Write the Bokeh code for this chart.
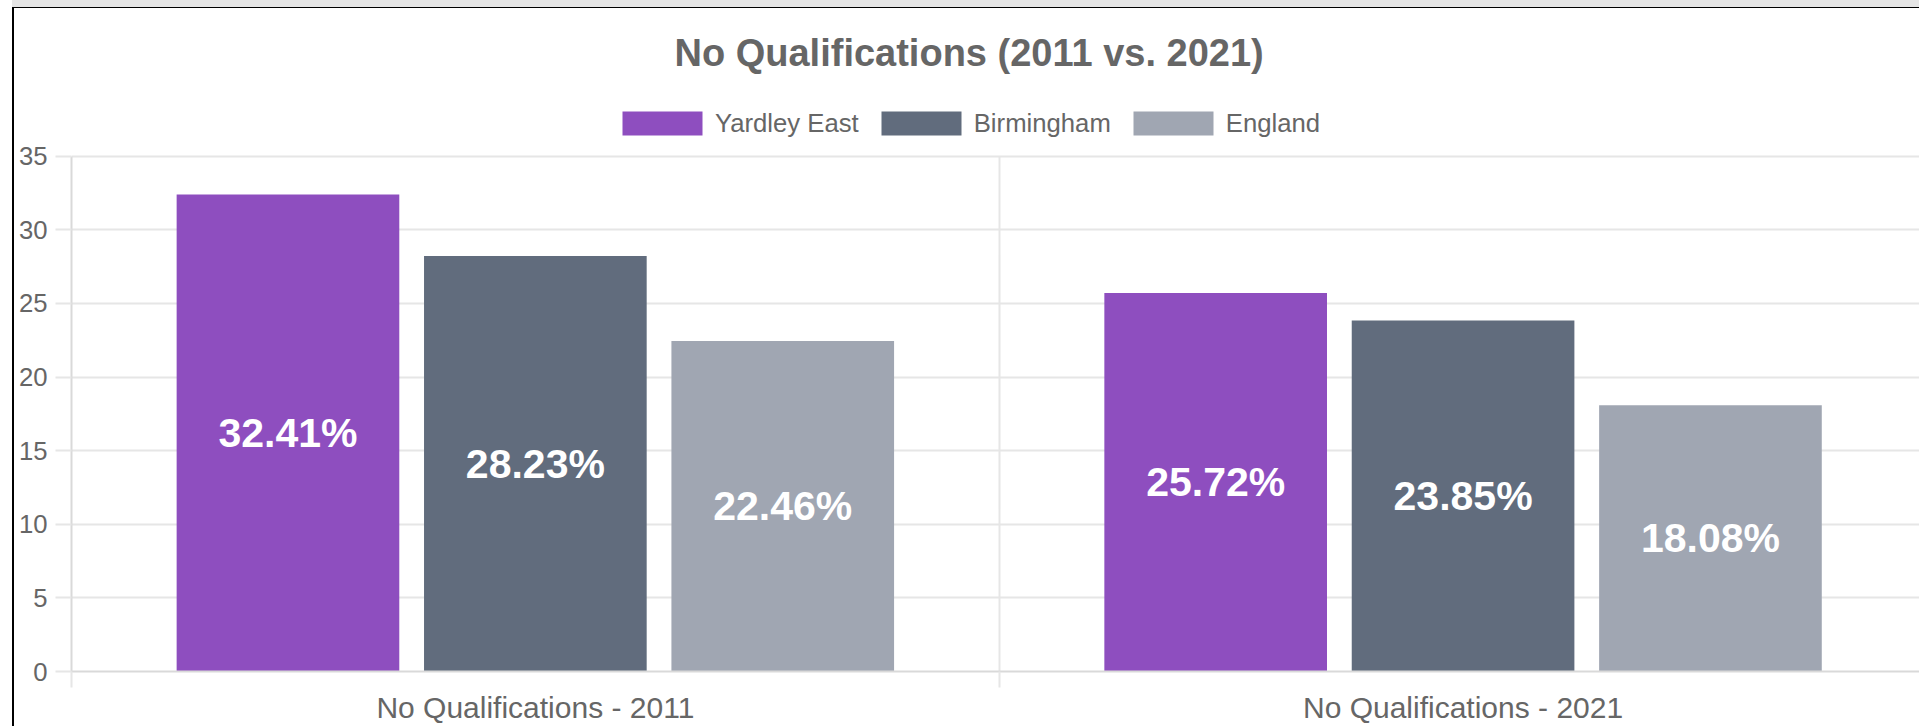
from bokeh.plotting import figure
from bokeh.models import (ColumnDataSource, Range1d, FixedTicker, Legend, LegendItem)
from bokeh.core.properties import value
from bokeh.embed import file_html
from bokeh.resources import INLINE

# ---- data ----
categories = ["No Qualifications - 2011", "No Qualifications - 2021"]
series = ["Yardley East", "Birmingham", "England"]
yardley_east = [32.41, 25.72]
birmingham = [28.23, 23.85]
england = [22.46, 18.08]
colors = ["#8e4ebf", "#616c7d", "#a0a6b2"]
y_ticks = [0, 5, 10, 15, 20, 25, 30, 35]
y_max = 35
title_text = "No Qualifications (2011 vs. 2021)"

FONT = "Liberation Sans"
GRID = "#e6e6e6"
AXIS = "#d9d9d9"
TXT = "#666666"
FRAME_H = 576
FRAME_W = 1848

p = figure(frame_width=FRAME_W, frame_height=FRAME_H, output_backend="svg", toolbar_location=None,
           x_range=Range1d(0, 1.992), y_range=Range1d(0, 39.13),
           min_border_left=57, min_border_right=0, min_border_top=87,
           min_border_bottom=55)
p.outline_line_color = None
p.background_fill_color = "white"
p.border_fill_color = "white"
# container frame of the original page (black border, grey strip above)
p.styles = {"margin-left": "12px", "margin-top": "7px",
            "border-left": "2px solid #000000", "border-top": "1px solid #000000",
            "box-shadow": "0 -7px 0 0 #e5e5e5"}

# layout of grouped bars (category 0.8, bar 0.9 of slot)
n = len(series)
slot = 0.8 / n
bar_w = slot * 0.9
centers = [i + 0.5 for i in range(len(categories))]

renderers = []
for k, (name, vals, col) in enumerate(zip(series, [yardley_east, birmingham, england], colors)):
    xs = [c + (k - (n - 1) / 2) * slot for c in centers]
    src = ColumnDataSource(dict(x=xs, top=vals, mid=[v / 2 for v in vals],
                                lab=[f"{v:.2f}%" for v in vals]))
    r = p.vbar(x="x", top="top", width=bar_w, source=src, fill_color=col, line_color=None)
    renderers.append(r)
    p.text(x="x", y="mid", text="lab", source=src, text_align="center",
           text_baseline="middle", text_color="white", text_font=value(FONT),
           text_font_size="41px", text_font_style="bold")

# title
p.title.text = title_text
p.title.align = "left"
p.title.offset = 603
p.title.text_font = FONT
p.title.text_font_size = "38px"
p.title.text_font_style = "bold"
p.title.text_color = TXT
p.title.standoff = 43

# legend (inside the frame, above the value area)
legend = Legend(items=[LegendItem(label=s, renderers=[r]) for s, r in zip(series, renderers)],
                orientation="horizontal", location=(536, 528),
                glyph_width=100, glyph_height=30, label_standoff=3, spacing=12,
                padding=5, margin=0, border_line_alpha=0, background_fill_alpha=0,
                label_text_font=FONT, label_text_font_size="25.7px", label_text_color=TXT)
p.add_layout(legend, "center")

# y axis
p.yaxis.ticker = FixedTicker(ticks=y_ticks)
p.yaxis.bounds = (0, y_max)
p.yaxis.axis_line_color = AXIS
p.yaxis.axis_line_width = 2
p.yaxis.major_tick_out = 16
p.yaxis.major_tick_in = 0
p.yaxis.major_tick_line_color = GRID
p.yaxis.major_tick_line_width = 2
p.yaxis.minor_tick_line_color = None
p.yaxis.major_label_text_font = FONT
p.yaxis.major_label_text_font_size = "25.7px"
p.yaxis.major_label_text_color = TXT
p.yaxis.major_label_standoff = 8

# x axis
p.xaxis.ticker = FixedTicker(ticks=centers, minor_ticks=[0, 1, 2])
p.xaxis.major_label_overrides = {c: lab for c, lab in zip(centers, categories)}
p.xaxis.axis_line_color = AXIS
p.xaxis.axis_line_width = 2
p.xaxis.major_tick_out = 0
p.xaxis.major_tick_in = 0
p.xaxis.minor_tick_out = 16
p.xaxis.minor_tick_in = 0
p.xaxis.minor_tick_line_color = GRID
p.xaxis.minor_tick_line_width = 2
p.xaxis.major_label_text_font = FONT
p.xaxis.major_label_text_font_size = "30px"
p.xaxis.major_label_text_color = TXT
p.xaxis.major_label_standoff = 3

# grids
p.xgrid.ticker = FixedTicker(ticks=[0, 1, 2])
p.xgrid.grid_line_color = GRID
p.xgrid.grid_line_width = 2
try:
    p.xgrid.cross_bounds = (0, y_max)
except Exception:
    pass
p.ygrid.ticker = FixedTicker(ticks=y_ticks)
p.ygrid.grid_line_color = GRID
p.ygrid.grid_line_width = 2

open("out.html", "w").write(file_html(p, INLINE))
